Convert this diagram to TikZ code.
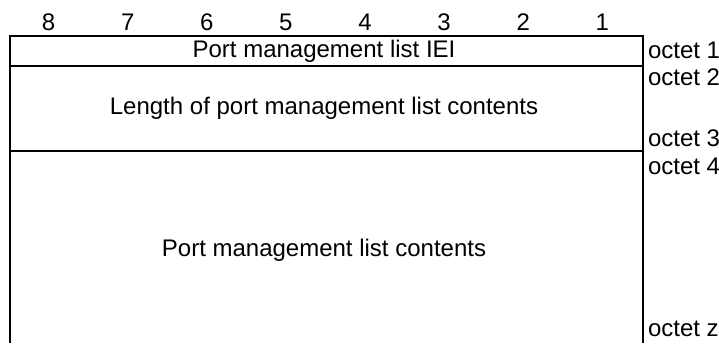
\documentclass[tikz,border=0pt]{standalone}
\usepackage{fontspec}
\setmainfont{Liberation Sans}
\begin{document}
\begin{tikzpicture}[x=1pt, y=-1pt, font=\fontsize{24}{28}\selectfont, line width=2pt]
    \useasboundingbox (0,0) rectangle (719,343);
    \tikzset{octet/.style={anchor=west, inner sep=0pt}}

    % bit numbers
    \foreach \b [count=\i from 0] in {8,...,1}
        \node (bit\b) at (48.6+79.1*\i, 22) {\b};

    % frame
    \draw (10,343) -- (10,36) -- (643,36) -- (643,343);
    \draw (9,66) -- (643,66);
    \draw (9,151) -- (643,151);

    % fields
    \node (iei) at (324, 51) {Port management list IEI};
    \node (len) at (324, 108) {Length of port management list contents};
    \node (contents) at (324, 250) {Port management list contents};

    % octets
    \node (oct1) [octet] at (647, 50) {octet 1};
    \node (oct2) [octet] at (647, 77) {octet 2};
    \node (oct3) [octet] at (647, 138) {octet 3};
    \node (oct4) [octet] at (647, 166) {octet 4};
    \node (octz) [octet] at (647, 329) {octet z};
\end{tikzpicture}
\end{document}
